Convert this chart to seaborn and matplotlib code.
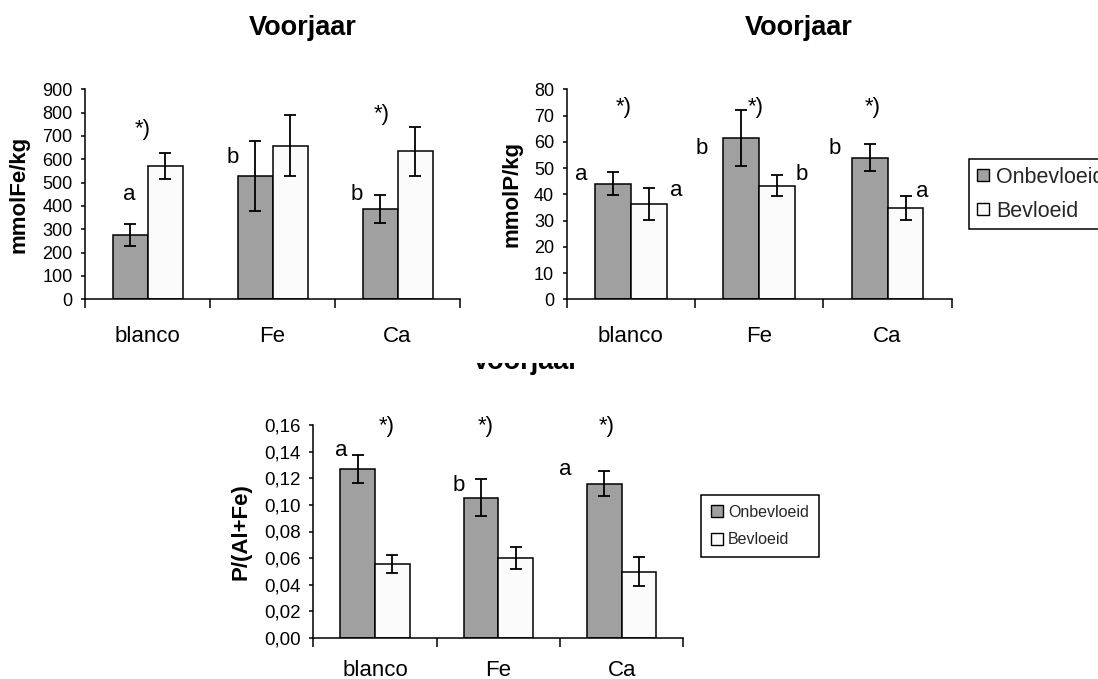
import numpy as np
import pandas as pd
import matplotlib
matplotlib.use("Agg")
import matplotlib.pyplot as plt
import seaborn as sns
from matplotlib.patches import Patch, Rectangle
from matplotlib.ticker import FuncFormatter

# ---------------- data ----------------
categories = ["blanco", "Fe", "Ca"]
treatments = ["Onbevloeid", "Bevloeid"]

fe_onb = [274, 530, 386]
fe_onb_err = [47, 150, 61]
fe_bev = [573, 658, 634]
fe_bev_err = [56, 130, 104]

p_onb = [44.1, 61.6, 54.0]
p_onb_err = [4.4, 10.7, 5.3]
p_bev = [36.4, 43.3, 34.9]
p_bev_err = [6.1, 3.9, 4.6]

r_onb = [0.127, 0.1055, 0.116]
r_onb_err = [0.0106, 0.0142, 0.0092]
r_bev = [0.0556, 0.0603, 0.0497]
r_bev_err = [0.0068, 0.0083, 0.0108]

title_text = "Voorjaar"
ylabels = ["mmolFe/kg", "mmolP/kg", "P/(Al+Fe)"]

# significance letters: (text, x in category units, y in data units)
ann_fe = [("a", -0.15, 447), ("*)", -0.04, 726), ("b", 0.684, 606),
          ("b", 1.674, 451), ("*)", 1.874, 790)]
ann_p = [("a", -0.39, 47.4), ("a", 0.357, 41.3), ("*)", -0.054, 72.9),
         ("b", 0.552, 57.6), ("*)", 0.97, 72.9), ("b", 1.333, 47.4),
         ("b", 1.591, 57.3), ("*)", 1.887, 72.9), ("a", 2.267, 41.0)]
ann_r = [("a", -0.276, 0.1409), ("*)", 0.095, 0.159), ("b", 0.681, 0.1143),
         ("*)", 0.898, 0.159), ("a", 1.54, 0.1264), ("*)", 1.878, 0.159)]

colors = {"Onbevloeid": "#A0A0A0", "Bevloeid": "#FBFBFB"}

# ---------------- style ----------------
sns.set_theme(style="white")
plt.rcParams["font.family"] = ["Liberation Sans", "DejaVu Sans"]
plt.rcParams["axes.edgecolor"] = "black"

W, H = 1098, 679
fig = plt.figure(figsize=(W / 100, H / 100), dpi=100)
fig.patch.set_facecolor("white")


def px_axes(l, t, r, b):
    return fig.add_axes([l / W, 1 - b / H, (r - l) / W, (b - t) / H])


def draw(ax, onb, onb_err, bev, bev_err, ymax, ystep, fmt, ylabel, labelx,
         annotations, ticksize, catsize, catpad):
    df = pd.DataFrame({
        "cat": categories * 2,
        "trt": [treatments[0]] * 3 + [treatments[1]] * 3,
        "val": list(onb) + list(bev),
    })
    sns.barplot(data=df, x="cat", y="val", hue="trt", order=categories,
                hue_order=treatments, palette=colors, width=0.56,
                edgecolor="black", linewidth=1.1, errorbar=None,
                legend=False, saturation=1, ax=ax)
    for cont, err in zip(ax.containers, [onb_err, bev_err]):
        xs = [r.get_x() + r.get_width() / 2 for r in cont]
        hs = [r.get_height() for r in cont]
        ax.errorbar(xs, hs, yerr=err, fmt="none", ecolor="black",
                    elinewidth=1.3, capsize=4.5, capthick=1.3, zorder=5)
    ax.set_xlim(-0.5, 2.5)
    ax.set_ylim(0, ymax)
    ax.set_yticks(np.arange(0, ymax + ystep / 2, ystep))
    ax.yaxis.set_major_formatter(FuncFormatter(fmt))
    ax.set_xticks([-0.5, 0.5, 1.5, 2.5])
    ax.set_xticklabels([])
    ax.set_xticks([0, 1, 2], minor=True)
    ax.set_xticklabels(categories, minor=True)
    ax.tick_params(axis="x", which="major", length=6.5, width=1.1,
                   direction="out", color="black", bottom=True)
    ax.tick_params(axis="x", which="minor", length=0, pad=catpad,
                   labelsize=catsize, labelcolor="black", bottom=True)
    ax.tick_params(axis="y", length=3, width=1.1, direction="out",
                   labelsize=ticksize, pad=6, color="black", left=True,
                   labelcolor="black")
    ax.set_xlabel("")
    ax.set_ylabel(ylabel, fontsize=16, fontweight="bold", color="black")
    ax.yaxis.set_label_coords(labelx, 0.5)
    for s in ["top", "right"]:
        ax.spines[s].set_visible(False)
    for s in ["left", "bottom"]:
        ax.spines[s].set_linewidth(1.1)
        ax.spines[s].set_color("black")
    ax.set_facecolor("white")
    for txt, x, y in annotations:
        ax.text(x, y, txt, ha="center", va="center", fontsize=16,
                color="black", clip_on=False, zorder=6)


ax1 = px_axes(85, 89.3, 460, 299.3)
ax2 = px_axes(566.7, 89.3, 951.7, 299.3)
ax3 = px_axes(313.3, 425.3, 683.3, 637.7)

draw(ax1, fe_onb, fe_onb_err, fe_bev, fe_bev_err, 900, 100,
     lambda v, p: f"{v:.0f}", ylabels[0], -0.147, ann_fe, 13, 16, 19)
draw(ax2, p_onb, p_onb_err, p_bev, p_bev_err, 80, 10,
     lambda v, p: f"{v:.0f}", ylabels[1], -0.116, ann_p, 13, 16, 19)
draw(ax3, r_onb, r_onb_err, r_bev, r_bev_err, 0.16, 0.02,
     lambda v, p: f"{v:.2f}".replace(".", ","), ylabels[2], -0.166, ann_r,
     13.5, 16, 16)

# titles
fig.text(303 / W, 1 - 35 / H, title_text, ha="center", va="baseline",
         fontsize=19.5, fontweight="bold", color="black")
fig.text(799 / W, 1 - 35 / H, title_text, ha="center", va="baseline",
         fontsize=19.5, fontweight="bold", color="black")
fig.text(526 / W, 1 - 369 / H, title_text, ha="center", va="baseline",
         fontsize=19.5, fontweight="bold", color="black", zorder=3)
# the lower chart's title is partly hidden behind the upper charts' area
fig.add_artist(Rectangle((462 / W, 1 - 363 / H), (598 - 462) / W,
                         (363 - 338) / H, transform=fig.transFigure,
                         facecolor="white", edgecolor="none", zorder=10))

# legends
handles = [Patch(facecolor=colors[t], edgecolor="black", linewidth=1.0)
           for t in treatments]
leg1 = fig.legend(handles, treatments, loc="upper left",
                  bbox_to_anchor=(969 / W, 1 - 159 / H),
                  bbox_transform=fig.transFigure, frameon=True,
                  fancybox=False, edgecolor="black", framealpha=1,
                  fontsize=15.5, handlelength=0.6, handleheight=0.5,
                  handletextpad=0.3, borderpad=0.35, labelspacing=0.62,
                  borderaxespad=0)
leg1.get_frame().set_linewidth(1.1)
leg2 = fig.legend(handles, treatments, loc="upper left",
                  bbox_to_anchor=(701 / W, 1 - 495 / H),
                  bbox_transform=fig.transFigure, frameon=True,
                  fancybox=False, edgecolor="black", framealpha=1,
                  fontsize=11.5, handlelength=0.8, handleheight=0.8,
                  handletextpad=0.3, borderpad=0.6, labelspacing=0.8,
                  borderaxespad=0)
leg2.get_frame().set_linewidth(1.1)

fig.savefig("out.png", dpi=100, facecolor="white")
